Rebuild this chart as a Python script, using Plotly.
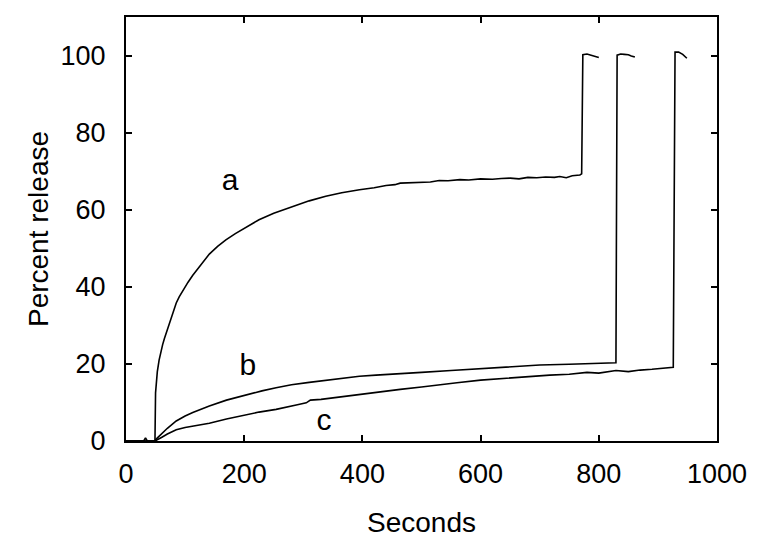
import plotly.graph_objects as go

# Curve a
a_x = [0, 20, 40, 49, 50, 51, 53, 56, 59, 62, 65, 68, 72, 76, 80, 85, 90, 95, 100, 105, 113, 125, 141, 155, 169, 185, 200,
       225, 250, 282, 310, 338, 365, 395, 420, 440, 455, 464, 480, 500, 515, 530, 545, 565, 580,
       600, 620, 635, 650, 665, 680, 695, 710, 725, 734, 745, 755, 768, 771,
       773, 780, 787, 793, 800]
a_y = [0, 0, 0, 0, 12.5, 15, 18, 21, 23.2, 25, 26.6, 28, 30, 32, 33.9, 35.8, 37.4, 38.8, 40.1, 41.2, 43, 45.4, 48.5, 50.5, 52.2, 53.8, 55.2,
       57.4, 59.1, 60.9, 62.3, 63.5, 64.4, 65.2, 65.7, 66.3, 66.5, 66.9, 67.0, 67.3, 67.2, 67.6, 67.5, 67.8, 67.7,
       68.0, 67.9, 68.1, 68.2, 68.0, 68.4, 68.3, 68.5, 68.4, 68.6, 68.3, 68.8, 69.0, 69.3,
       100.2, 100.4, 100.1, 99.8, 99.5]

# Curve b
b_x = [0, 49, 51, 60, 70, 85, 100, 113, 125, 141, 170, 200, 230, 254, 280, 310, 340, 367, 395, 423,
       464, 500, 550, 600, 650, 700, 750, 800, 829,
       831, 837, 843, 850, 855, 861]
b_y = [0, 0, 0.5, 1.9, 3.3, 5.2, 6.5, 7.4, 8.2, 9.1, 10.6, 11.9, 13.0, 13.8, 14.6, 15.2, 15.8, 16.3, 16.8, 17.1,
       17.4, 17.8, 18.3, 18.8, 19.2, 19.7, 19.9, 20.1, 20.3,
       100.1, 100.4, 100.3, 100.2, 99.9, 99.6]

# Curve c
c_x = [0, 30, 33, 36, 49, 51, 60, 70, 85, 100, 120, 141, 170, 200, 225, 254, 280, 290, 305, 312, 330,
       350, 367, 395, 423, 440, 464, 500, 530, 560, 600, 640, 680, 717, 750, 780, 800, 829, 850,
       870, 890, 910, 920, 926,
       929, 935, 942, 949]
c_y = [0, 0, 0.8, 0, 0, 0.2, 0.9, 1.8, 2.9, 3.5, 4.0, 4.6, 5.7, 6.75, 7.5, 8.2, 9.2, 9.4, 9.9, 10.6, 10.8,
       11.2, 11.5, 12.1, 12.6, 12.9, 13.4, 14.0, 14.6, 15.1, 15.8, 16.3, 16.8, 17.1, 17.3, 17.8, 17.6, 18.3, 18.0,
       18.4, 18.6, 18.8, 18.9, 19.1,
       100.9, 100.9, 100.3, 99.3]

labels = ["a", "b", "c"]
label_x = [176, 206, 335]
label_y = [67.0, 19.0, 4.8]

x_ticks = [0, 200, 400, 600, 800, 1000]
y_ticks = [0, 20, 40, 60, 80, 100]
X_RANGE = [0, 1000]
Y_RANGE = [0, 110]

FONT = "Liberation Sans, Arial, sans-serif"
FS = 27
TFS = 28

fig = go.Figure()
for xs, ys in [(a_x, a_y), (b_x, b_y), (c_x, c_y)]:
    fig.add_trace(go.Scatter(x=xs, y=ys, mode="lines",
                             line=dict(color="black", width=1.6), showlegend=False))

fig.add_trace(go.Scatter(x=label_x, y=label_y, mode="text", text=labels, yaxis="y2",
                         textfont=dict(family=FONT, size=30, color="black"), showlegend=False))

fig.update_layout(
    width=762, height=546, paper_bgcolor="white", plot_bgcolor="white",
    margin=dict(l=126, r=45, t=17, b=105, autoexpand=False),
    xaxis=dict(range=X_RANGE, tickvals=x_ticks, showline=True, linecolor="black", linewidth=1.5,
               mirror="ticks", ticks="inside", ticklen=6, tickwidth=1.5, tickcolor="black",
               showgrid=False, zeroline=False, ticklabelstandoff=8,
               tickfont=dict(family=FONT, size=FS, color="black"),
               title=dict(text="Seconds", font=dict(family=FONT, size=TFS, color="black"), standoff=24)),
    yaxis=dict(range=Y_RANGE, tickvals=y_ticks, showline=True, linecolor="black", linewidth=1.5,
               mirror="ticks", ticks="inside", ticklen=6, tickwidth=1.5, tickcolor="black",
               showgrid=False, zeroline=False, showticklabels=False),
    yaxis2=dict(range=Y_RANGE, tickvals=y_ticks, overlaying="y", side="left", anchor="x",
                showline=False, showgrid=False, zeroline=False,
                ticks="outside", ticklen=14, tickcolor="rgba(0,0,0,0)",
                tickfont=dict(family=FONT, size=FS, color="black"),
                title=dict(text="Percent release", font=dict(family=FONT, size=TFS, color="black"), standoff=3)),
)

fig.write_html("out.html", config={"displayModeBar": False},
               post_script="document.body.style.margin='0px';")
